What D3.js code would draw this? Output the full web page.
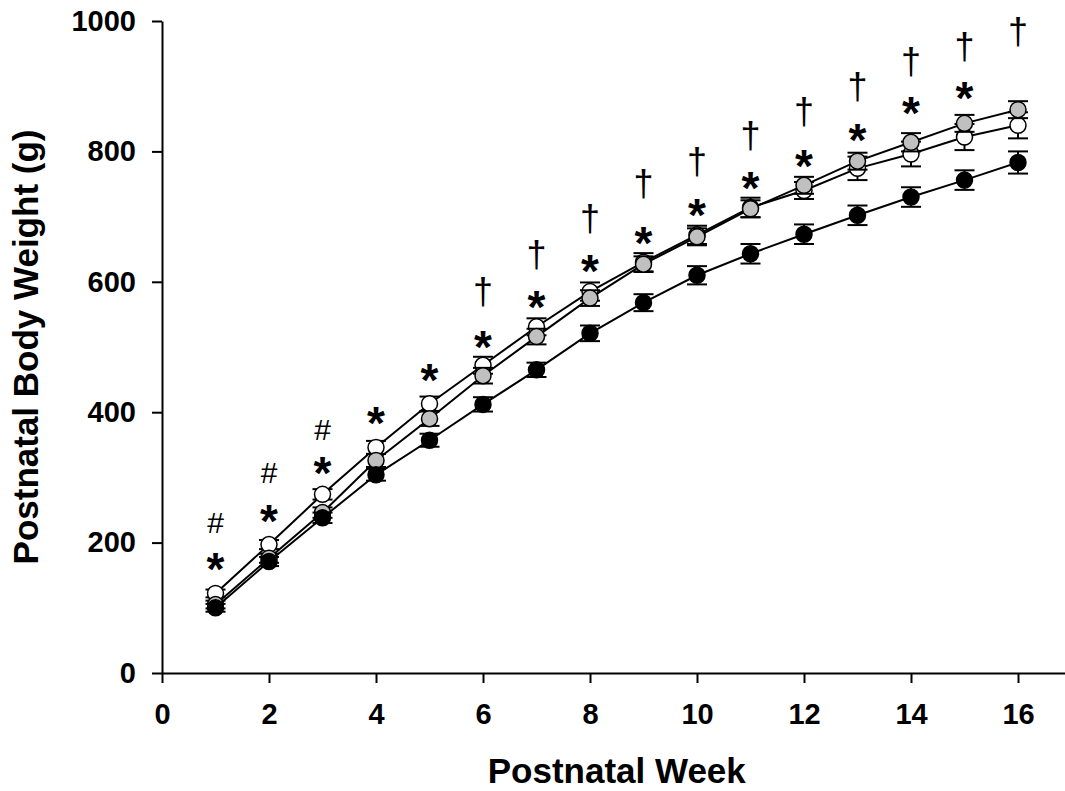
<!DOCTYPE html>
<html>
<head>
<meta charset="utf-8">
<script src="https://cdn.jsdelivr.net/npm/d3@7"></script>
<style>
  body { margin: 0; background: #fff; }
  text { font-family: Arial, "Liberation Sans", sans-serif; fill: #000; }
</style>
</head>
<body>
<div class="chart"></div>
<script>
var width = 1065,
    height = 791;

// postnatal weeks
var weeks = [1, 2, 3, 4, 5, 6, 7, 8, 9, 10, 11, 12, 13, 14, 15, 16];

// body weight (g), means and SEM per group
var blackMean = [100, 171, 238, 304, 357, 412, 465, 521, 568, 610, 643, 673, 702, 730, 756, 783];
var blackErr  = [6, 7, 8, 9, 10, 11, 11, 12, 13, 14, 15, 15, 15, 15, 15, 17];
var whiteMean = [122, 197, 274, 346, 413, 472, 531, 585, 630, 672, 714, 740, 774, 796, 822, 840];
var whiteErr  = [6, 7, 8, 10, 11, 13, 13, 14, 14, 14, 15, 13, 18, 19, 20, 20];
var grayMean  = [105, 176, 246, 326, 390, 456, 516, 575, 627, 669, 712, 748, 785, 814, 843, 864];
var grayErr   = [6, 7, 8, 10, 11, 12, 12, 12, 12, 13, 13, 13, 13, 14, 13, 13];

// significance marks: [week, height in g]
var stars   = [[1, 174], [2, 248], [3, 322], [4, 399], [5, 465], [6, 515], [7, 577], [8, 632],
               [9, 675], [10, 717], [11, 759], [12, 793], [13, 832], [14, 874], [15, 897]];
var hashes  = [[1, 231], [2, 307], [3, 373]];
var daggers = [[6, 583], [7, 639], [8, 694], [9, 748], [10, 782], [11, 822], [12, 858],
               [13, 897], [14, 935], [15, 958], [16, 981]];

var xTicks = [0, 2, 4, 6, 8, 10, 12, 14, 16],
    yTicks = [0, 200, 400, 600, 800, 1000];

var x = d3.scaleLinear().domain([0, 17]).range([162, 1071.5]),
    y = d3.scaleLinear().domain([0, 1000]).range([673, 21]);

var svg = d3.select(".chart").append("svg")
    .attr("width", width)
    .attr("height", height);

// axes
var xAxis = svg.append("g")
    .attr("transform", "translate(0," + y(0) + ")")
    .call(d3.axisBottom(x).tickValues(xTicks).tickSize(10).tickPadding(20).tickSizeOuter(0));

var yAxis = svg.append("g")
    .attr("transform", "translate(" + x(0) + ",0)")
    .call(d3.axisLeft(y).tickValues(yTicks).tickFormat(d3.format("d"))
      .tickSize(10).tickPadding(16).tickSizeOuter(0));

[xAxis, yAxis].forEach(function(a) {
  a.select(".domain").attr("stroke", "#000").attr("stroke-width", 2);
  a.selectAll(".tick line").attr("stroke", "#000").attr("stroke-width", 2);
  a.selectAll(".tick text")
      .style("font-size", "29px")
      .style("font-weight", "bold")
      .style("font-family", "Arial, 'Liberation Sans', sans-serif");
});

// axis titles
svg.append("text")
    .attr("x", x(8.5))
    .attr("y", 783)
    .attr("text-anchor", "middle")
    .style("font-size", "35px")
    .style("font-weight", "bold")
    .text("Postnatal Week");

svg.append("text")
    .attr("transform", "translate(38," + (y(0) + y(1000)) / 2 + ")rotate(-90)")
    .attr("text-anchor", "middle")
    .style("font-size", "35px")
    .style("font-weight", "bold")
    .text("Postnatal Body Weight (g)");

// series, drawn back to front
var series = [
  {mean: whiteMean, err: whiteErr, fill: "#fff"},
  {mean: grayMean, err: grayErr, fill: "#c0c0c0"},
  {mean: blackMean, err: blackErr, fill: "#000"}
];

var line = d3.line()
    .x(function(d) { return x(d.week); })
    .y(function(d) { return y(d.value); });

var capW = 10,
    r = 8;

series.forEach(function(s) {
  var pts = weeks.map(function(w, i) { return {week: w, value: s.mean[i], err: s.err[i]}; });
  var g = svg.append("g");

  g.append("path")
      .datum(pts)
      .attr("d", line)
      .attr("fill", "none")
      .attr("stroke", "#000")
      .attr("stroke-width", 2);

  var eb = g.selectAll(".err").data(pts).enter().append("g");
  eb.append("line")
      .attr("x1", function(d) { return x(d.week); })
      .attr("x2", function(d) { return x(d.week); })
      .attr("y1", function(d) { return y(d.value - d.err); })
      .attr("y2", function(d) { return y(d.value + d.err); });
  eb.append("line")
      .attr("x1", function(d) { return x(d.week) - capW; })
      .attr("x2", function(d) { return x(d.week) + capW; })
      .attr("y1", function(d) { return y(d.value + d.err); })
      .attr("y2", function(d) { return y(d.value + d.err); });
  eb.append("line")
      .attr("x1", function(d) { return x(d.week) - capW; })
      .attr("x2", function(d) { return x(d.week) + capW; })
      .attr("y1", function(d) { return y(d.value - d.err); })
      .attr("y2", function(d) { return y(d.value - d.err); });
  eb.selectAll("line").attr("stroke", "#000").attr("stroke-width", 2);

  g.selectAll("circle").data(pts).enter().append("circle")
      .attr("cx", function(d) { return x(d.week); })
      .attr("cy", function(d) { return y(d.value); })
      .attr("r", r)
      .attr("fill", s.fill)
      .attr("stroke", "#000")
      .attr("stroke-width", 1.5);
});

// significance marks
function marks(data, sym, size, weight, dy) {
  svg.append("g").selectAll("text").data(data).enter().append("text")
      .attr("x", function(d) { return x(d[0]); })
      .attr("y", function(d) { return y(d[1]); })
      .attr("dy", dy)
      .attr("text-anchor", "middle")
      .style("font-size", size)
      .style("font-weight", weight)
      .text(sym);
}

marks(stars, "*", "46px", "bold", "0.56em");
marks(hashes, "#", "30px", "normal", "0.35em");
marks(daggers, "\u2020", "36px", "normal", "0.3em");
</script>
</body>
</html>
